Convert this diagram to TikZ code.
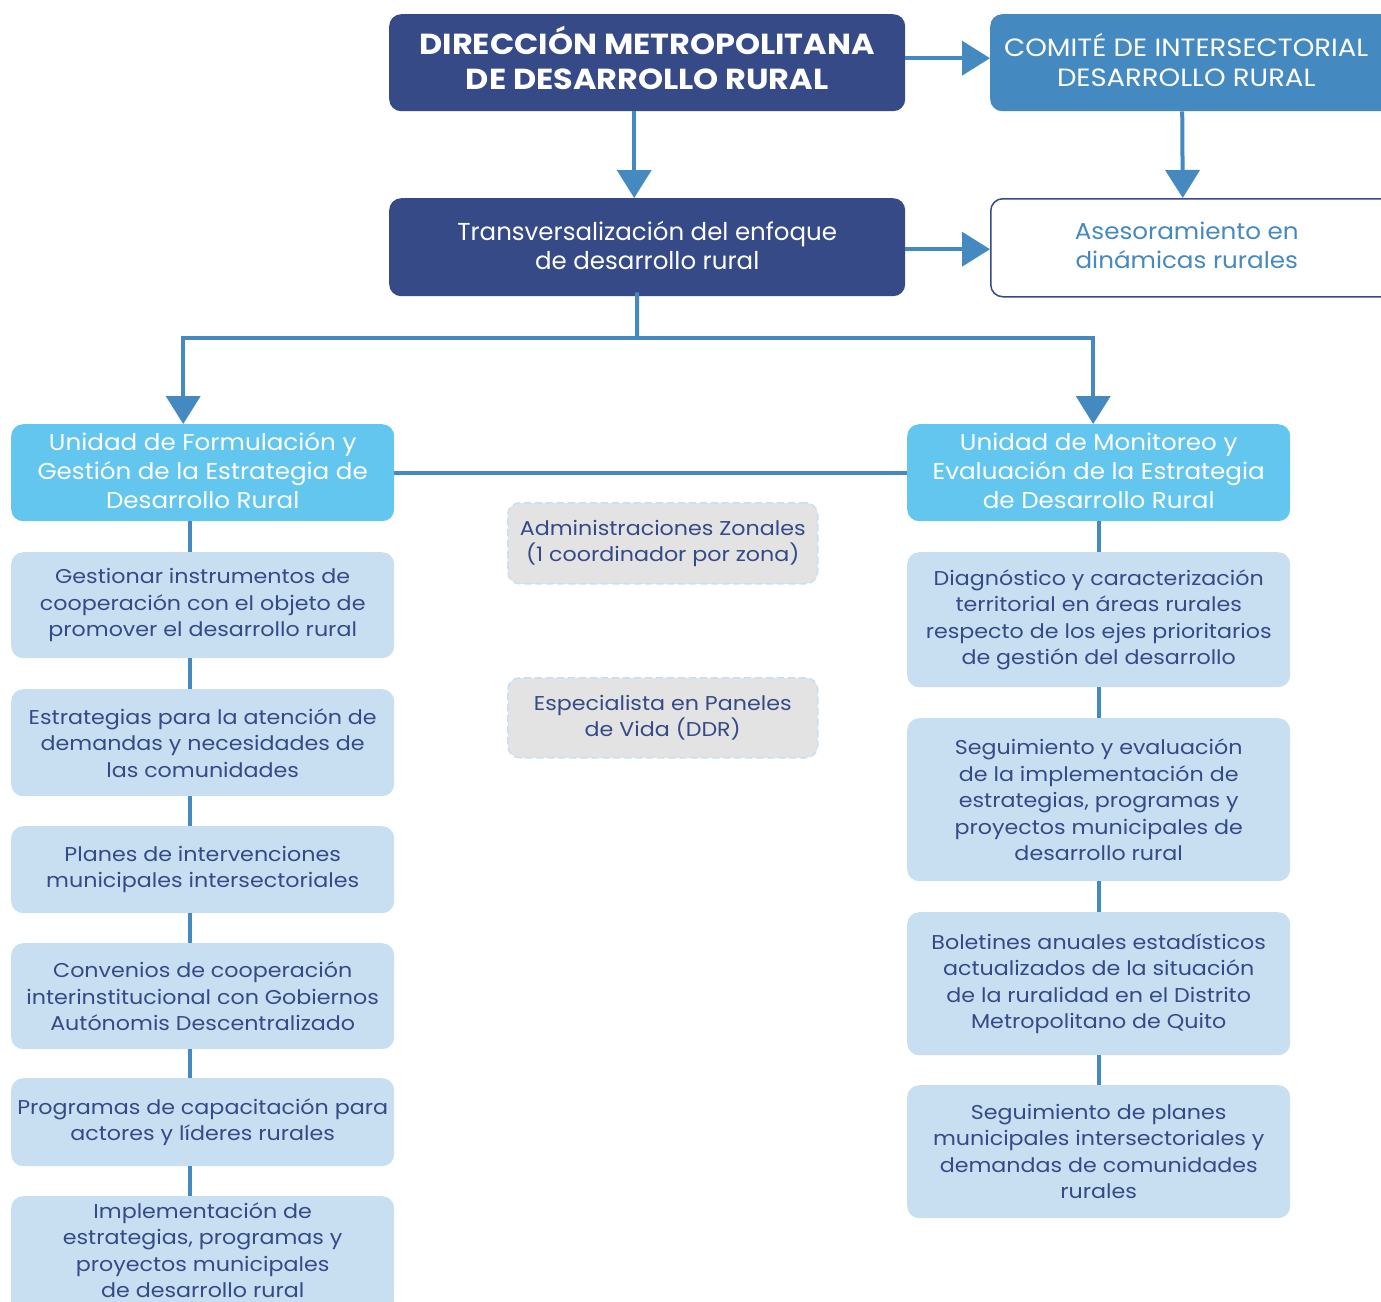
\documentclass[tikz,border=0pt]{standalone}
\usepackage{fontspec}
\setmainfont{Poppins}
\newfontfamily\widefont{Poppins}[FakeStretch=1.11]
\newfontfamily\unitfont{Poppins}[FakeStretch=1.07]
\newfontfamily\titlefont{Poppins}[FakeStretch=1.1]
\newfontfamily\comfont{Poppins}[FakeStretch=1.1]
\usetikzlibrary{arrows.meta}
\definecolor{cdark}{RGB}{53,74,134}
\definecolor{cmid}{RGB}{69,137,193}
\definecolor{ccyan}{RGB}{98,198,238}
\definecolor{clight}{RGB}{200,223,241}
\definecolor{cgray}{RGB}{227,227,227}
\newcommand{\lowpad}[1]{\rule[-#1]{0pt}{1pt}}
\begin{document}
\begin{tikzpicture}[x=1pt,y=-1pt,
  box/.style={rounded corners=12pt, inner sep=0pt, align=center, anchor=north west},
  darkbox/.style={box, fill=cdark, text=white, font=\fontsize{24.5}{29.5}\selectfont},
  titlebox/.style={box, fill=cdark, text=white, font=\titlefont\fontsize{29}{35}\selectfont\bfseries},
  midbox/.style={box, fill=cmid, text=white, font=\comfont\fontsize{25}{29.5}\selectfont},
  outbox/.style={box, fill=white, draw=cdark, line width=1.5pt, text=cmid, font=\unitfont\fontsize{23}{29.5}\selectfont},
  unitbox/.style={box, fill=ccyan, text=white, font=\unitfont\fontsize{23}{29}\selectfont},
  itembox/.style={box, fill=clight, text=cdark, font=\widefont\fontsize{20}{26.5}\selectfont},
  graybox/.style={box, fill=cgray, draw=clight, line width=1.5pt, dash pattern=on 7pt off 4pt, text=cdark, font=\widefont\fontsize{20}{26}\selectfont},
  arr/.style={draw=cmid, line width=4pt, -{Triangle[width=34pt,length=28pt]}},
  link/.style={draw=cmid, line width=4pt},
]
\useasboundingbox (0,0) rectangle (1381,1301);

% top row
\node[titlebox, minimum width=516pt, minimum height=97pt] (dir) at (389,14) {DIRECCIÓN METROPOLITANA\\DE DESARROLLO RURAL\lowpad{10pt}};
\node[midbox, minimum width=420pt, minimum height=97pt] (com) at (990,14) {\hspace*{-28pt}COMITÉ DE INTERSECTORIAL\\\hspace*{-28pt}DESARROLLO RURAL\lowpad{6pt}};
\node[darkbox, minimum width=516pt, minimum height=98pt] (tra) at (389,198) {Transversalización del enfoque\\de desarrollo rural\lowpad{4pt}};
\node[outbox, minimum width=420pt, minimum height=98pt] (ase) at (990,198) {\hspace*{-28pt}Asesoramiento en\\\hspace*{-28pt}dinámicas rurales\lowpad{5pt}};

\draw[arr] ([yshift=4.5pt]dir.east) -- ([yshift=4.5pt]dir.east -| com.west);
\draw[arr] ([xshift=-13pt]dir.south) -- ([xshift=-13pt]tra.north);
\draw[arr] ([xshift=-18pt]com.south) -- ([xshift=-18pt]ase.north);
\draw[arr] ([yshift=-2pt]tra.east) -- ([yshift=-2pt]tra.east -| ase.west);

% units
\node[unitbox, minimum width=383pt, minimum height=97pt] (uf) at (11,424) {Unidad de Formulación y\\Gestión de la Estrategia de\\Desarrollo Rural\lowpad{4pt}};
\node[unitbox, minimum width=383pt, minimum height=97pt] (um) at (907,424) {Unidad de Monitoreo y\\Evaluación de la Estrategia\\de Desarrollo Rural\lowpad{4pt}};

\coordinate (j) at (637,338);
\draw[link] ([xshift=-10pt,yshift=4pt]tra.south) -- (j);
\draw[arr] ([xshift=2pt]j) -| ([xshift=-19.5pt]uf.north);
\draw[arr] ([xshift=-2pt]j) -| ([xshift=-5.5pt]um.north);
\draw[link] (uf.east) -- (um.west);

% gray boxes
\node[graybox, minimum width=310pt, minimum height=81pt] (adz) at (507,502) {Administraciones Zonales\\(1 coordinador por zona)};
\node[graybox, minimum width=310pt, minimum height=80pt] (esp) at (507,677) {Especialista en Paneles\\de Vida (DDR)};

% left column
\node[itembox, minimum width=383pt, minimum height=106pt] (l1) at (11,552) {Gestionar instrumentos de\\cooperación con el objeto de\\promover el desarrollo rural};
\node[itembox, minimum width=383pt, minimum height=107pt] (l2) at (11,689) {Estrategias para la atención de\\demandas y necesidades de\\las comunidades};
\node[itembox, minimum width=383pt, minimum height=87pt] (l3) at (11,826) {Planes de intervenciones\\municipales intersectoriales};
\node[itembox, minimum width=383pt, minimum height=106pt] (l4) at (11,943) {Convenios de cooperación\\interinstitucional con Gobiernos\\Autónomis Descentralizado};
\node[itembox, minimum width=383pt, minimum height=88pt] (l5) at (11,1078) {Programas de capacitación para\\actores y líderes rurales};
\fill[clight] (11,1250) rectangle (394,1320);
\node[itembox, minimum width=383pt, minimum height=108pt] (l6) at (11,1196) {Implementación de\\estrategias, programas y\\proyectos municipales\\de desarrollo rural};

\foreach \a/\b in {uf/l1,l1/l2,l2/l3,l3/l4,l4/l5,l5/l6}
  \draw[link] ([xshift=-12.5pt]\a.south) -- ([xshift=-12.5pt]\b.north);

% right column
\node[itembox, minimum width=383pt, minimum height=135pt] (r1) at (907,552) {Diagnóstico y caracterización\\territorial en áreas rurales\\respecto de los ejes prioritarios\\de gestión del desarrollo};
\node[itembox, minimum width=383pt, minimum height=163pt] (r2) at (907,718) {Seguimiento y evaluación\\de la implementación de\\estrategias, programas y\\proyectos municipales de\\desarrollo rural};
\node[itembox, minimum width=383pt, minimum height=143pt] (r3) at (907,912) {Boletines anuales estadísticos\\actualizados de la situación\\de la ruralidad en el Distrito\\Metropolitano de Quito};
\node[itembox, minimum width=383pt, minimum height=133pt] (r4) at (907,1085) {Seguimiento de planes\\municipales intersectoriales y\\demandas de comunidades\\rurales};

\foreach \a/\b in {um/r1,r1/r2,r2/r3,r3/r4}
  \draw[link] (\a.south) -- (\b.north);
\end{tikzpicture}
\end{document}
